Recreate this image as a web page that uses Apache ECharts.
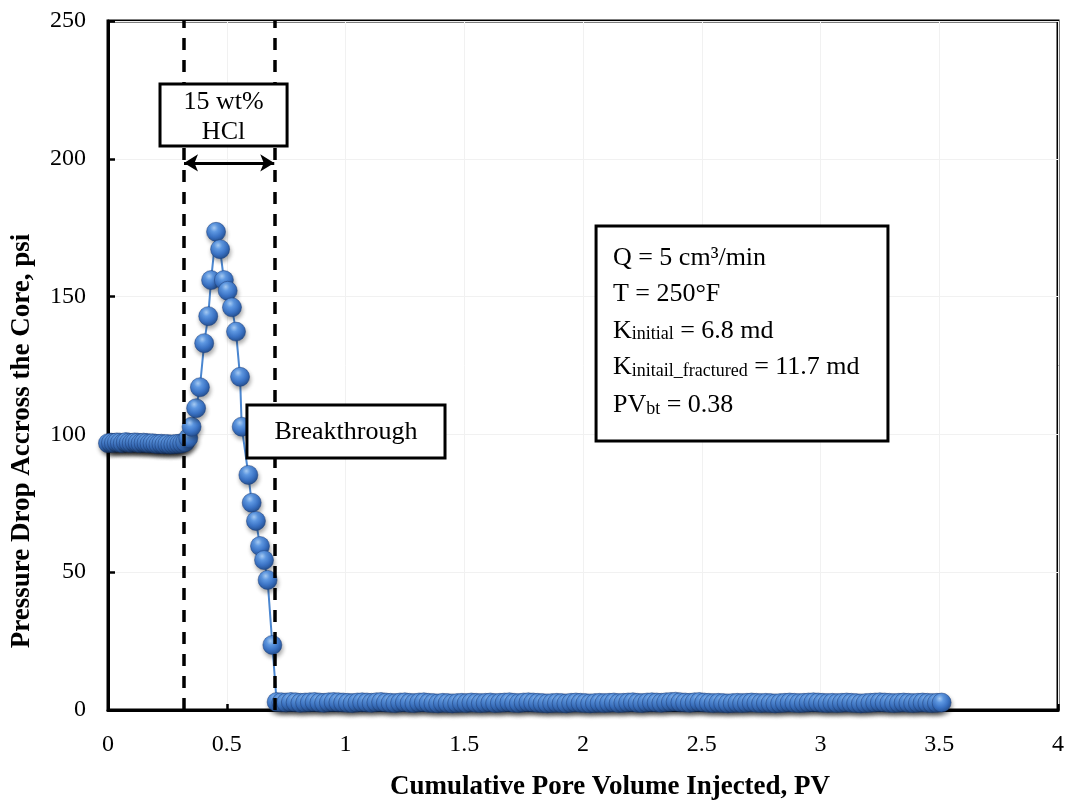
<!DOCTYPE html>
<html>
<head>
<meta charset="utf-8">
<script src="https://cdn.jsdelivr.net/npm/echarts@6/dist/echarts.min.js"></script>
<style>html,body{margin:0;padding:0;background:#fff}#c{width:1071px;height:802px}</style>
</head>
<body>
<div id="c"></div>
<script>
// ---- data ----
const baselinePV = [0,0.0125,0.025,0.0375,0.05,0.0625,0.075,0.0875,0.1,0.1125,0.125,0.1375,0.15,0.1625,0.175,0.1875,0.2,0.2125,0.225,0.2375,0.25,0.2625,0.275,0.2875,0.3,0.3125,0.325];
const baselineDP = [96.8,97.0,96.9,97.1,97.0,96.8,97.2,97.0,96.9,97.1,97.0,96.8,97.0,96.9,96.7,96.8,96.6,96.5,96.6,96.4,96.5,96.3,96.4,96.5,96.6,96.8,97.2];
const acidPV = [0.338,0.352,0.371,0.387,0.405,0.422,0.434,0.455,0.472,0.488,0.504,0.522,0.539,0.556,0.563,0.591,0.605,0.623,0.640,0.657,0.672,0.692];
const acidDP = [98.7,102.8,109.5,117.1,133.1,142.9,156.0,173.5,167.2,156.0,152.1,146.1,137.3,120.9,102.8,85.3,75.2,68.6,59.5,54.4,47.2,23.6];
const afterPV = [
  0.71,0.73,0.75,0.77,0.79,0.81,0.83,0.85,0.87,0.89,
  0.91,0.93,0.95,0.97,0.99,1.01,1.03,1.05,1.07,1.09,
  1.11,1.13,1.15,1.17,1.19,1.21,1.23,1.25,1.27,1.29,
  1.31,1.33,1.35,1.37,1.39,1.41,1.43,1.45,1.47,1.49,
  1.51,1.53,1.55,1.57,1.59,1.61,1.63,1.65,1.67,1.69,
  1.71,1.73,1.75,1.77,1.79,1.81,1.83,1.85,1.87,1.89,
  1.91,1.93,1.95,1.97,1.99,2.01,2.03,2.05,2.07,2.09,
  2.11,2.13,2.15,2.17,2.19,2.21,2.23,2.25,2.27,2.29,
  2.31,2.33,2.35,2.37,2.39,2.41,2.43,2.45,2.47,2.49,
  2.51,2.53,2.55,2.57,2.59,2.61,2.63,2.65,2.67,2.69,
  2.71,2.73,2.75,2.77,2.79,2.81,2.83,2.85,2.87,2.89,
  2.91,2.93,2.95,2.97,2.99,3.01,3.03,3.05,3.07,3.09,
  3.11,3.13,3.15,3.17,3.19,3.21,3.23,3.25,3.27,3.29,
  3.31,3.33,3.35,3.37,3.39,3.41,3.43,3.45,3.47,3.49,
  3.51];
const afterDP = [
  2.9,2.8,2.7,2.9,2.8,2.6,2.7,2.8,2.9,2.7,
  2.6,2.8,2.9,2.8,2.7,2.6,2.5,2.7,2.8,2.7,
  2.6,2.8,2.9,2.7,2.6,2.5,2.7,2.8,2.6,2.5,
  2.7,2.8,2.6,2.5,2.4,2.6,2.5,2.4,2.5,2.6,
  2.5,2.7,2.6,2.5,2.6,2.7,2.5,2.6,2.7,2.8,
  2.6,2.5,2.7,2.8,2.7,2.6,2.5,2.4,2.5,2.6,
  2.5,2.4,2.6,2.7,2.6,2.5,2.4,2.5,2.6,2.5,
  2.6,2.7,2.5,2.6,2.7,2.8,2.6,2.5,2.7,2.8,
  2.7,2.6,2.8,2.9,3.0,2.8,2.7,2.6,2.8,2.9,
  2.7,2.6,2.5,2.6,2.5,2.4,2.5,2.6,2.5,2.6,
  2.7,2.6,2.5,2.6,2.5,2.4,2.5,2.6,2.7,2.6,
  2.5,2.6,2.7,2.8,2.7,2.6,2.5,2.6,2.5,2.6,
  2.7,2.6,2.5,2.4,2.5,2.6,2.7,2.8,2.7,2.6,
  2.5,2.6,2.7,2.6,2.5,2.6,2.7,2.6,2.5,2.6,
  2.7];

const xTicks = {min: 0, max: 4, interval: 0.5};
const yTicks = {min: 0, max: 250, interval: 50};

const acidStartPV = 0.32, breakthroughPV = 0.70, arrowDP = 198.5;
const xTitle = 'Cumulative Pore Volume Injected, PV';
const yTitle = 'Pressure Drop Accross the Core, psi';

const series1 = [];
[[baselinePV, baselineDP], [acidPV, acidDP], [afterPV, afterDP]].forEach(([xs, ys]) => {
  xs.forEach((x, i) => series1.push([x, ys[i]]));
});

const FONT = '"Liberation Serif", "Times New Roman", serif';
const ballColor = {
  type: 'radial', x: 0.4, y: 0.3, r: 0.72,
  colorStops: [
    {offset: 0, color: '#aacff8'},
    {offset: 0.28, color: '#5e98e2'},
    {offset: 0.65, color: '#3a72c4'},
    {offset: 1, color: '#234d8c'}
  ]
};

const chart = echarts.init(document.getElementById('c'), null, {renderer: 'canvas'});
chart.setOption({
  animation: false,
  backgroundColor: '#fff',
  grid: {left: 108, right: 13, top: 21, bottom: 92, show: true, borderColor: '#000', borderWidth: 3, containLabel: false},
  xAxis: {
    type: 'value', min: xTicks.min, max: xTicks.max, interval: xTicks.interval,
    axisLine: {show: true, onZero: false, lineStyle: {color: '#000', width: 3}},
    axisTick: {show: true, inside: true, length: 6, lineStyle: {color: '#000', width: 2.5}},
    axisLabel: {color: '#000', fontFamily: FONT, fontSize: 24, margin: 23},
    splitLine: {show: true, lineStyle: {color: '#f1f1f1', width: 1}}
  },
  yAxis: {
    type: 'value', min: yTicks.min, max: yTicks.max, interval: yTicks.interval,
    axisLine: {show: true, onZero: false, lineStyle: {color: '#000', width: 3}},
    axisTick: {show: true, inside: true, length: 7, lineStyle: {color: '#000', width: 2.5}},
    axisLabel: {color: '#000', fontFamily: FONT, fontSize: 24, margin: 22},
    splitLine: {show: true, lineStyle: {color: '#f1f1f1', width: 1}}
  },
  series: [{
    type: 'line',
    data: series1,
    symbol: 'circle',
    symbolSize: 19,
    showSymbol: true,
    showAllSymbol: true,
    clip: false,
    lineStyle: {color: '#4a86d0', width: 2},
    itemStyle: {
      color: ballColor, borderColor: 'rgba(30,65,125,0.65)', borderWidth: 0.8,
      shadowColor: 'rgba(0,0,0,0.35)', shadowBlur: 4, shadowOffsetX: 1, shadowOffsetY: 3
    },
    emphasis: {disabled: true},
    markLine: {
      silent: true, animation: false,
      label: {show: false},
      data: [
        [{coord: [acidStartPV, yTicks.min], symbol: 'none'}, {coord: [acidStartPV, yTicks.max], symbol: 'none'}],
        [{coord: [breakthroughPV, yTicks.min], symbol: 'none'}, {coord: [breakthroughPV, yTicks.max], symbol: 'none'}]
      ],
      lineStyle: {color: '#000', width: 3.5, type: [12, 10]}
    }
  }, {
    type: 'line', data: [], silent: true,
    markLine: {
      silent: true, animation: false,
      label: {show: false},
      symbol: ['arrow', 'arrow'], symbolSize: [13, 14],
      data: [[{coord: [acidStartPV, arrowDP]}, {coord: [breakthroughPV, arrowDP]}]],
      lineStyle: {color: '#000', width: 3, type: 'solid'}
    }
  }]
});

// annotation anchors in data coordinates
const acidBox = {x0: 0.219, x1: 0.754, y0: 204.6, y1: 227.1};
const breakBox = {x0: 0.585, x1: 1.419, y0: 91.4, y1: 110.7};
const paramBox = {x0: 2.055, x1: 3.284, y0: 97.6, y1: 175.6};
const paramTextX = 2.126;
const paramLines = [
  {y: 164.4, text: '{m|Q = 5 cm³/min}'},
  {y: 151.3, text: '{m|T = 250°F}'},
  {y: 138.0, text: '{m|K}{s|initial}{m| = 6.8 md}'},
  {y: 124.6, text: '{m|K}{s|initail_fractured}{m| = 11.7 md}'},
  {y: 110.8, text: '{m|PV}{s|bt}{m| = 0.38}'}
];

function px(x, y) { return chart.convertToPixel({gridIndex: 0}, [x, y]); }
function boxRect(b) {
  const a = px(b.x0, b.y1), c = px(b.x1, b.y0);
  return {x: a[0], y: a[1], width: c[0] - a[0], height: c[1] - a[1]};
}
const g = [];
[acidBox, breakBox, paramBox].forEach(b => {
  g.push({type: 'rect', z: 100, shape: boxRect(b), style: {fill: '#fff', stroke: '#000', lineWidth: 3}});
});
const ar = boxRect(acidBox);
g.push({type: 'text', z: 101, x: ar.x + ar.width / 2, y: ar.y + ar.height / 2 + 2,
  style: {text: '15 wt%\nHCl', fill: '#000', font: '26px ' + FONT, textAlign: 'center', textVerticalAlign: 'middle', lineHeight: 30}});
const br = boxRect(breakBox);
g.push({type: 'text', z: 101, x: br.x + br.width / 2, y: br.y + br.height / 2 + 1,
  style: {text: 'Breakthrough', fill: '#000', font: '26px ' + FONT, textAlign: 'center', textVerticalAlign: 'middle'}});
paramLines.forEach(l => {
  const p = px(paramTextX, l.y);
  g.push({type: 'text', z: 101, x: p[0], y: p[1],
    style: {text: l.text, textAlign: 'left', textVerticalAlign: 'middle',
      rich: {
        m: {fontFamily: FONT, fontSize: 26, color: '#000', lineHeight: 28, verticalAlign: 'bottom'},
        s: {fontFamily: FONT, fontSize: 18, color: '#000', lineHeight: 8, verticalAlign: 'bottom'}
      }}});
});
g.push({type: 'text', z: 101, x: 610, y: 787,
  style: {text: xTitle, fill: '#000', font: 'bold 27px ' + FONT, textAlign: 'center', textVerticalAlign: 'middle'}});
g.push({type: 'text', z: 101, x: 22, y: 441, rotation: Math.PI / 2,
  style: {text: yTitle, fill: '#000', font: 'bold 27px ' + FONT, textAlign: 'center', textVerticalAlign: 'middle'}});
chart.setOption({graphic: g});
</script>
</body>
</html>
